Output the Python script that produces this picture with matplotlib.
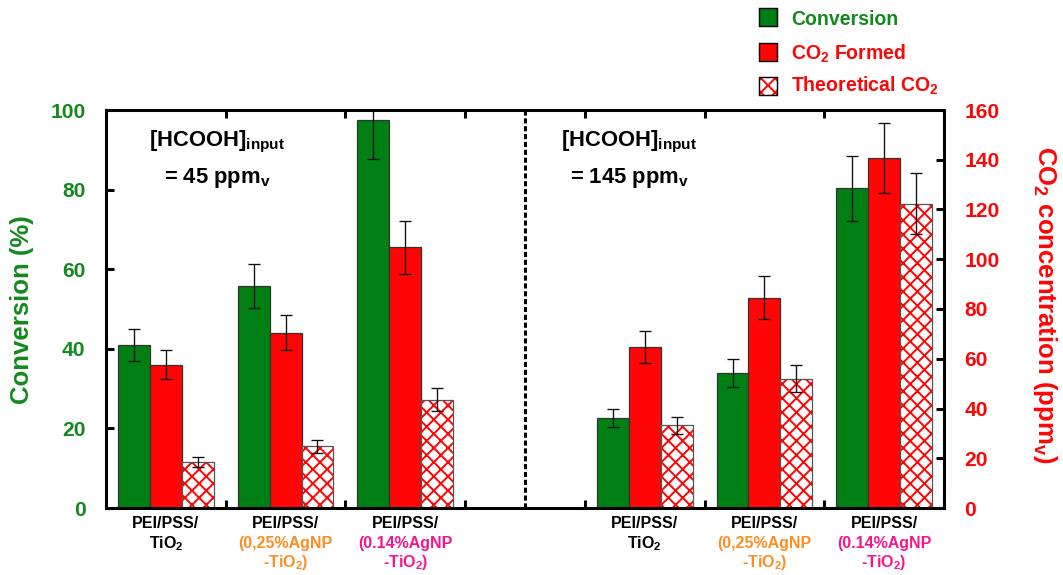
import numpy as np
import matplotlib
matplotlib.use('Agg')
import matplotlib.pyplot as plt
from matplotlib.patches import Rectangle
from matplotlib.transforms import blended_transform_factory

plt.rcParams['font.family'] = ['Liberation Sans', 'DejaVu Sans']
plt.rcParams['font.weight'] = 'bold'
plt.rcParams['mathtext.fontset'] = 'custom'
plt.rcParams['mathtext.rm'] = 'Liberation Sans:bold'
plt.rcParams['mathtext.bf'] = 'Liberation Sans:bold'
plt.rcParams['mathtext.it'] = 'Liberation Sans:bold'
plt.rcParams['hatch.linewidth'] = 1.1

# data
conversion = [41.0, 55.8, 97.4, 22.7, 33.9, 80.3]          # %
conversion_err = [4.1, 5.6, 9.8, 2.3, 3.5, 8.1]
co2_formed = [57.6, 70.5, 104.8, 64.8, 84.6, 140.8]        # ppmv
co2_formed_err = [5.8, 7.0, 10.6, 6.5, 8.5, 14.0]
co2_theory = [18.5, 24.8, 43.6, 33.3, 52.0, 122.4]         # ppmv
co2_theory_err = [2.0, 2.6, 4.5, 3.4, 5.3, 12.2]

cat_top = ['PEI/PSS/'] * 6
cat_bottom = [['TiO$_\\mathbf{2}$'],
              ['(0,25%AgNP', '-TiO$_\\mathbf{2}$)'],
              ['(0.14%AgNP', '-TiO$_\\mathbf{2}$)']] * 2
cat_colors = ['black', '#FF8C21', '#F7158E'] * 2
inputs = ['45', '145']

GREEN = '#008014'
RED = '#FF0505'
TGREEN = '#128A1E'

DPI = 128
W, H = 1063, 575
fig = plt.figure(figsize=(W / DPI, H / DPI), dpi=DPI)
ax = fig.add_axes([106 / W, 1 - 508 / H, 838 / W, 398 / H])
ax2 = ax.twinx()

x = np.r_[np.arange(3) + 0.5, np.arange(3) + 4.5]
bw = 0.8 / 3
ekw = dict(fmt='none', ecolor='#111111', elinewidth=0.75, capsize=3.2, capthick=0.75)

ax.bar(x - bw, conversion, bw, color=GREEN, edgecolor='#333333', linewidth=0.7, zorder=2)
ax.errorbar(x - bw, conversion, yerr=conversion_err, zorder=3, **ekw)

ax2.bar(x, co2_formed, bw, color=RED, edgecolor='#333333', linewidth=0.7, zorder=2)
ax2.errorbar(x, co2_formed, yerr=co2_formed_err, zorder=3, **ekw)
ax2.bar(x + bw, co2_theory, bw, color='white', edgecolor=RED, hatch='xxx', linewidth=0, zorder=2)
ax2.bar(x + bw, co2_theory, bw, fill=False, edgecolor='#555555', linewidth=0.7, zorder=2)
ax2.errorbar(x + bw, co2_theory, yerr=co2_theory_err, zorder=3, **ekw)

ax.set_xlim(0, 7)
ax.set_ylim(0, 100)
ax2.set_ylim(0, 160)
ax.set_xticks(np.arange(1, 7))
ax.set_xticklabels([])
ax.set_yticks(np.arange(0, 101, 20))
ax2.set_yticks(np.arange(0, 161, 20))

for a in (ax, ax2):
    for s in a.spines.values():
        s.set_linewidth(1.7)
ax.tick_params(axis='x', direction='in', top=True, length=4.5, width=1.7)
ax.tick_params(axis='y', direction='in', length=4.5, width=1.7, pad=11.5,
               labelsize=11.8, labelcolor=TGREEN)
ax2.tick_params(axis='y', direction='in', length=4.5, width=1.7, pad=11.5,
                labelsize=11.8, labelcolor=RED)

ax.axvline(3.5, color='black', linewidth=1.7, dashes=(1.7, 0.9))

fig.text(22 / W, 1 - 310 / H, 'Conversion (%)', rotation=90, ha='center', va='center',
         fontsize=14.5, color=TGREEN)
fig.text(1045 / W, 1 - 305 / H, 'CO$_\\mathbf{2}$ concentration (ppm$_\\mathbf{v}$)',
         rotation=270, ha='center', va='center', fontsize=14.5, color=RED)

# category labels under the axis
tr = blended_transform_factory(ax.transData, fig.transFigure)
for xi, top, bottom, c in zip(x, cat_top, cat_bottom, cat_colors):
    ax.text(xi, 1 - 528 / H, top, transform=tr, ha='center', va='baseline',
            fontsize=9, color='black')
    for j, line in enumerate(bottom):
        ax.text(xi, 1 - (548 + 19 * j) / H, line, transform=tr, ha='center',
                va='baseline', fontsize=9, color=c)

# input concentration notes
for xc, val in zip([0.93, 4.37], inputs):
    ax.text(xc, 1 - 146 / H, '[HCOOH]$_\\mathbf{input}$', transform=tr, ha='center',
            va='baseline', fontsize=12.4, color='black')
    ax.text(xc, 1 - 183 / H, '= ' + val + ' ppm$_\\mathbf{v}$', transform=tr, ha='center',
            va='baseline', fontsize=12.4, color='black')

# legend
leg_items = [('Conversion', TGREEN, dict(facecolor=GREEN), 8, 25),
             ('CO$_\\mathbf{2}$ Formed', RED, dict(facecolor=RED), 43, 60),
             ('Theoretical CO$_\\mathbf{2}$', RED, dict(facecolor='white', hatch='xxx'), 77, 92)]
for label, tc, style, ytop, base in leg_items:
    if 'hatch' in style:
        fig.add_artist(Rectangle((759 / W, 1 - (ytop + 18) / H), 18 / W, 18 / H,
                                 transform=fig.transFigure, edgecolor=RED, linewidth=0, **style))
        fig.add_artist(Rectangle((759 / W, 1 - (ytop + 18) / H), 18 / W, 18 / H,
                                 transform=fig.transFigure, fill=False,
                                 edgecolor='black', linewidth=0.8))
    else:
        fig.add_artist(Rectangle((759 / W, 1 - (ytop + 18) / H), 18 / W, 18 / H,
                                 transform=fig.transFigure, edgecolor='black',
                                 linewidth=0.8, **style))
    fig.text(791 / W, 1 - base / H, label, ha='left', va='baseline', fontsize=11, color=tc)

fig.savefig('out.png', dpi=DPI)
